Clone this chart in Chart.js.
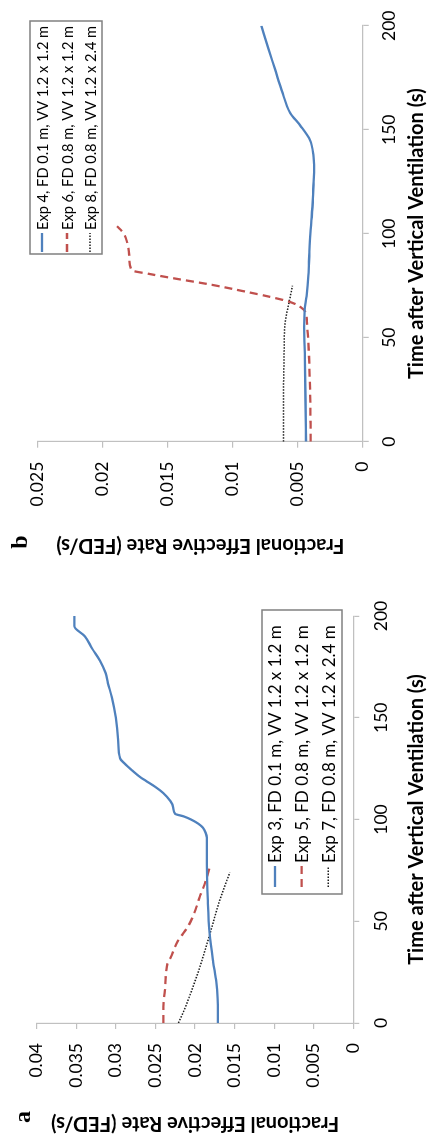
<!DOCTYPE html>
<html>
<head>
<meta charset="utf-8">
<script src="https://cdn.jsdelivr.net/npm/chart.js@4.4.1/dist/chart.umd.min.js"></script>
<style>
  html, body { margin: 0; padding: 0; background: #fff; width: 429px; height: 1138px; overflow: hidden; }
  /* the two-panel figure is laid out landscape and turned a quarter turn */
  #figure { position: absolute; left: 0; top: 0; width: 1138px; height: 429px;
            transform-origin: 0 0; transform: translate(0, 1138px) rotate(-90deg); background: #fff; }
  #figure canvas { position: absolute; top: 0; }
  #panelA { left: 0; }
  #panelB { left: 578px; }
</style>
</head>
<body>
<div id="figure">
  <canvas id="panelA" width="570" height="429"></canvas>
  <canvas id="panelB" width="560" height="429"></canvas>
</div>
<script>
// ---- Panel a : FD 0.1 m / 0.8 m, VV 1.2 x 1.2 m and 1.2 x 2.4 m ----
const exp3Time = [0, 12, 20, 30, 44, 60, 78, 91, 93.5, 96, 98, 100, 101.5, 102.8, 106, 109, 113, 116, 119, 120.5, 124, 127.5, 130, 139, 150, 160, 167, 172, 178, 184, 190, 195, 200];
const exp3Rate = [0.0171, 0.01715, 0.0173, 0.0177, 0.01815, 0.01838, 0.0185, 0.0185, 0.01865, 0.019, 0.0196, 0.0205, 0.0214, 0.0225, 0.02275, 0.0231, 0.024, 0.025, 0.0262, 0.0268, 0.0279, 0.0289, 0.02945, 0.0297, 0.03, 0.0305, 0.031, 0.0313, 0.032, 0.033, 0.0339, 0.03525, 0.03525];
const exp5Time = [0, 8, 16, 25, 29, 32, 40, 48, 56, 62, 68, 73, 77];
const exp5Rate = [0.024, 0.024, 0.0238, 0.02365, 0.0235, 0.0231, 0.0222, 0.0208, 0.0199, 0.0194, 0.0188, 0.0184, 0.0181];
const exp7Time = [0, 6, 12, 25, 44, 60, 74];
const exp7Rate = [0.0221, 0.0214, 0.0208, 0.0196, 0.0181, 0.0169, 0.0156];

// ---- Panel b ----
const exp4Time = [0, 20, 40, 55, 63, 70, 80, 91, 100, 108, 117, 125, 131, 138, 145, 152, 158, 169, 179, 189, 200];
const exp4Rate = [0.00436, 0.0044, 0.00445, 0.0045, 0.00446, 0.00432, 0.00418, 0.0041, 0.00402, 0.00392, 0.00383, 0.00378, 0.00373, 0.00379, 0.00405, 0.0048, 0.00557, 0.00623, 0.00674, 0.00726, 0.0078];
const exp6Time = [0, 25, 50, 58, 61.7, 64.8, 67.2, 69.6, 72.4, 75.6, 78.3, 80.6, 82.5, 88.6, 96.5, 100.4, 103.6];
const exp6Rate = [0.004, 0.00405, 0.0042, 0.0043, 0.00436, 0.0048, 0.0056, 0.0071, 0.0092, 0.01175, 0.0143, 0.01636, 0.01777, 0.01795, 0.01815, 0.01842, 0.0189];
const exp8Time = [0, 20, 40, 55, 60, 66, 75];
const exp8Rate = [0.0061, 0.0061, 0.00605, 0.006, 0.0059, 0.0057, 0.0054];

// ---- labels ----
const labelsA = ['Exp 3, FD 0.1 m, VV 1.2 x 1.2 m', 'Exp 5, FD 0.8 m, VV 1.2 x 1.2 m', 'Exp 7, FD 0.8 m, VV 1.2 x 2.4 m'];
const labelsB = ['Exp 4, FD 0.1 m, VV 1.2 x 1.2 m', 'Exp 6, FD 0.8 m, VV 1.2 x 1.2 m', 'Exp 8, FD 0.8 m, VV 1.2 x 2.4 m'];
const timeTicks = { min: 0, max: 200, step: 50 };
const rateTicksA = { min: 0, max: 0.04, step: 0.005 };
const rateTicksB = { min: 0, max: 0.025, step: 0.005 };
const timeTitle = 'Time after Vertical Ventilation (s)';
const rateTitle = 'Fractional Effective Rate (FED/s)';

const BLUE = '#4F81BD', RED = '#C0504D', DOT = '#1a1a1a', AXIS = '#c0c0c0';
const FONT = 'Lato';

const toPoints = (ts, vs) => ts.map((t, i) => ({ x: t, y: vs[i] }));

function seriesSet(labels, blue, red, dots) {
  return [
    { label: labels[0], data: blue, borderColor: BLUE, borderWidth: 2.3, borderDash: [] },
    { label: labels[1], data: red, borderColor: RED, borderWidth: 2.3, borderDash: [8, 5] },
    { label: labels[2], data: dots, borderColor: DOT, borderWidth: 1.5, borderDash: [1.5, 1.5] }
  ].map(d => Object.assign(d, { showLine: true, pointRadius: 0, fill: false,
                               cubicInterpolationMode: 'monotone', borderCapStyle: 'butt' }));
}

// framed legend drawn inside the plot
const boxLegend = {
  id: 'boxLegend',
  afterDatasetsDraw(chart, args, o) {
    const ctx = chart.ctx;
    ctx.save();
    ctx.fillStyle = '#fff';
    ctx.fillRect(o.x, o.y, o.w, o.h);
    ctx.strokeStyle = '#808080';
    ctx.lineWidth = 1.5;
    ctx.strokeRect(o.x, o.y, o.w, o.h);
    ctx.font = o.size + 'px ' + FONT;
    ctx.textBaseline = 'middle';
    chart.data.datasets.forEach((ds, i) => {
      const ry = o.rows[i];
      ctx.strokeStyle = ds.borderColor;
      ctx.lineWidth = ds.borderWidth;
      ctx.setLineDash(ds.borderDash);
      ctx.beginPath();
      ctx.moveTo(o.sx, ry);
      ctx.lineTo(o.sx + o.sl, ry);
      ctx.stroke();
      ctx.setLineDash([]);
      ctx.fillStyle = '#000';
      ctx.fillText(ds.label, o.sx + o.sl + 3, ry + 1);
    });
    ctx.restore();
  }
};

// panel letter
const panelTag = {
  id: 'panelTag',
  afterDraw(chart, args, o) {
    const ctx = chart.ctx;
    ctx.save();
    ctx.font = 'bold 24px "Liberation Serif"';
    ctx.fillStyle = '#000';
    ctx.textAlign = 'center';
    ctx.textBaseline = 'alphabetic';
    ctx.fillText(o.text, o.x, o.y);
    ctx.restore();
  }
};

function makeChart(id, datasets, rateTicks, g, legend, tag) {
  const canvas = document.getElementById(id);
  const W = canvas.width, H = canvas.height;
  return new Chart(canvas, {
    type: 'scatter',
    data: { datasets },
    plugins: [boxLegend, panelTag],
    options: {
      responsive: false,
      animation: false,
      devicePixelRatio: 1,
      layout: { padding: { left: 0, top: g.top, right: W - g.right, bottom: 0 } },
      plugins: {
        legend: { display: false },
        tooltip: { enabled: false },
        boxLegend: legend,
        panelTag: tag
      },
      scales: {
        x: {
          type: 'linear', min: timeTicks.min, max: timeTicks.max,
          ticks: { stepSize: timeTicks.step, color: '#000', font: { family: FONT, size: g.tick }, padding: g.xPad, maxRotation: 0 },
          grid: { drawOnChartArea: false, drawTicks: true, tickLength: 6, color: AXIS, lineWidth: 1.2 },
          border: { color: AXIS, width: 1.2 },
          title: { display: true, text: timeTitle, color: '#000', font: { family: FONT, size: g.title, weight: 'bold' }, padding: { top: 0, bottom: 0 } },
          afterFit: s => { s.height = H - g.bottom; }
        },
        y: {
          type: 'linear', min: rateTicks.min, max: rateTicks.max,
          ticks: { stepSize: rateTicks.step, color: '#000', font: { family: FONT, size: g.tick }, padding: 14,
                   callback: v => String(Math.round(v * 1000) / 1000) },
          grid: { drawOnChartArea: false, drawTicks: true, tickLength: 6, color: AXIS, lineWidth: 1.2 },
          border: { color: AXIS, width: 1.2 },
          title: { display: true, text: rateTitle, color: '#000', font: { family: FONT, size: g.title, weight: 'bold' }, padding: { top: 3, bottom: 0 } },
          afterFit: s => { s.width = g.left; }
        }
      }
    }
  });
}

makeChart('panelA',
  seriesSet(labelsA, toPoints(exp3Time, exp3Rate), toPoints(exp5Time, exp5Rate), toPoints(exp7Time, exp7Rate)),
  rateTicksA,
  { left: 115, right: 522, top: 36.7, bottom: 353.3, tick: 17.5, title: 20, xPad: 12 },
  { x: 244, y: 262, w: 284, h: 80, sx: 251, sl: 21, rows: [275, 301.7, 328.3], size: 17 },
  { text: 'a', x: 21, y: 30 });

makeChart('panelB',
  seriesSet(labelsB, toPoints(exp4Time, exp4Rate), toPoints(exp6Time, exp6Rate), toPoints(exp8Time, exp8Rate)),
  rateTicksB,
  { left: 118.3, right: 540, top: 37.7, bottom: 362.7, tick: 17.5, title: 20, xPad: 10.5 },
  { x: 306, y: 30, w: 233, h: 72, sx: 308, sl: 19, rows: [42, 67, 90], size: 14.6 },
  { text: 'b', x: 18, y: 27 });
</script>
</body>
</html>
